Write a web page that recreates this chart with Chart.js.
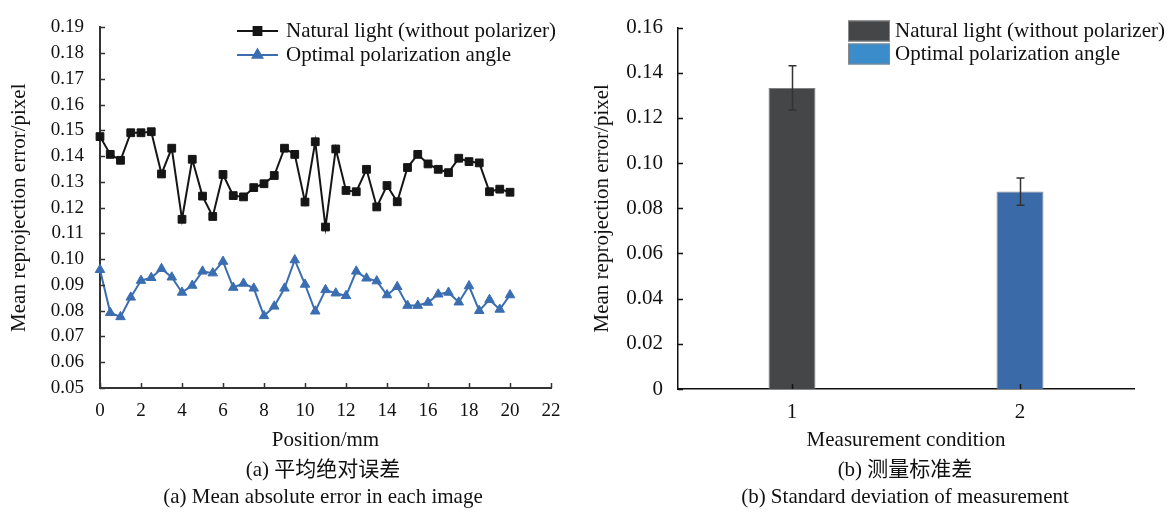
<!DOCTYPE html>
<html>
<head>
<meta charset="utf-8">
<script src="https://cdn.jsdelivr.net/npm/chart.js@4.4.0/dist/chart.umd.min.js"></script>
<style>
  body { margin: 0; background: #fff; width: 1171px; height: 512px; position: relative; overflow: hidden; }
  canvas { position: absolute; top: 0; }
  #left-chart { left: 0; }
  #right-chart { left: 580px; }
  .caption {
    position: absolute;
    font-family: 'Liberation Serif', 'Times New Roman', Times, 'Noto Sans CJK SC', serif;
    font-size: 21px;
    color: #111;
    white-space: nowrap;
    transform: translateX(-50%);
    line-height: 1;
  }
</style>
</head>
<body>
<canvas id="left-chart" width="580" height="460"></canvas>
<canvas id="right-chart" width="591" height="460"></canvas>
<div class="caption" style="left:323px; top:459px">(a) 平均绝对误差</div>
<div class="caption" style="left:323px; top:486px">(a) Mean absolute error in each image</div>
<div class="caption" style="left:905px; top:459px">(b) 测量标准差</div>
<div class="caption" style="left:905px; top:486px">(b) Standard deviation of measurement</div>

<script>
// (a) error at each position
const positions = [0, 0.5, 1, 1.5, 2, 2.5, 3, 3.5, 4, 4.5, 5, 5.5, 6, 6.5, 7, 7.5, 8, 8.5, 9, 9.5,
  10, 10.5, 11, 11.5, 12, 12.5, 13, 13.5, 14, 14.5, 15, 15.5, 16, 16.5, 17, 17.5, 18, 18.5, 19, 19.5, 20];
const naturalLight = [0.1476, 0.1407, 0.1384, 0.1491, 0.1491, 0.1495, 0.1331, 0.1431, 0.1155, 0.1388,
  0.1245, 0.1166, 0.1329, 0.1247, 0.1242, 0.1278, 0.1293, 0.1325, 0.1431, 0.1407,
  0.1222, 0.1456, 0.1125, 0.1428, 0.1267, 0.1262, 0.1349, 0.1203, 0.1286, 0.1223,
  0.1356, 0.1407, 0.1370, 0.1349, 0.1336, 0.1392, 0.1379, 0.1374, 0.1262, 0.1272, 0.1260];
const optimalAngle = [0.0959, 0.0792, 0.0776, 0.0852, 0.0917, 0.0928, 0.0963, 0.0930, 0.0871, 0.0898,
  0.0953, 0.0946, 0.0991, 0.0890, 0.0906, 0.0887, 0.0780, 0.0817, 0.0887, 0.0997,
  0.0902, 0.0798, 0.0881, 0.0868, 0.0858, 0.0953, 0.0926, 0.0915, 0.0861, 0.0893,
  0.0820, 0.0820, 0.0832, 0.0864, 0.0871, 0.0833, 0.0896, 0.0800, 0.0843, 0.0805, 0.0861];

// (b) mean and standard deviation per condition
const conditions = ['1', '2'];
const naturalMean = [0.1333, null];
const optimalMean = [null, 0.0874];
const stdDev = [0.0098, 0.0060];

const legendNames = ['Natural light (without polarizer)', 'Optimal polarization angle'];

const FONT = "'Liberation Serif', 'Times New Roman', Times, serif";
Chart.defaults.font.family = FONT;
Chart.defaults.font.size = 19;
Chart.defaults.color = '#111';

// tick marks pointing into the plot
const innerTicks = {
  id: 'innerTicks',
  afterDatasetsDraw(chart, args, opts) {
    const { ctx, chartArea, scales } = chart;
    ctx.save();
    ctx.strokeStyle = opts.color;
    ctx.lineWidth = opts.width;
    ctx.beginPath();
    scales.x.ticks.forEach((t, i) => {
      const px = Math.round(scales.x.getPixelForTick(i)) + 0.5;
      ctx.moveTo(px, chartArea.bottom);
      ctx.lineTo(px, chartArea.bottom - opts.length);
    });
    scales.y.ticks.forEach((t, i) => {
      const py = Math.round(scales.y.getPixelForTick(i)) + 0.5;
      ctx.moveTo(chartArea.left, py);
      ctx.lineTo(chartArea.left + opts.length, py);
    });
    ctx.stroke();
    ctx.restore();
  }
};

// legend drawn at a fixed spot inside the plot
const fixedLegend = {
  id: 'fixedLegend',
  afterDraw(chart, args, opts) {
    const ctx = chart.ctx;
    ctx.save();
    ctx.font = '21px ' + FONT;
    ctx.textBaseline = 'middle';
    chart.data.datasets.forEach((ds, i) => {
      const y = opts.top + i * opts.rowHeight;
      if (opts.kind === 'line') {
        ctx.strokeStyle = ds.borderColor;
        ctx.lineWidth = 2;
        ctx.beginPath();
        ctx.moveTo(opts.x, y);
        ctx.lineTo(opts.x + opts.sample, y);
        ctx.stroke();
        ctx.fillStyle = ds.pointBackgroundColor;
        ctx.strokeStyle = ds.pointBorderColor;
        Chart.helpers.drawPoint(ctx, { pointStyle: ds.pointStyle, radius: ds.pointRadius, borderWidth: 1 }, opts.x + opts.sample / 2, y);
      } else {
        ctx.fillStyle = opts.boxColors[i];
        ctx.fillRect(opts.x, y - opts.boxH / 2, opts.sample, opts.boxH);
        ctx.strokeStyle = '#888';
        ctx.lineWidth = 1;
        ctx.strokeRect(opts.x + 0.5, y - opts.boxH / 2 + 0.5, opts.sample - 1, opts.boxH - 1);
      }
      ctx.fillStyle = '#111';
      ctx.fillText(ds.label, opts.x + opts.sample + opts.gap, y);
    });
    ctx.restore();
  }
};

// standard deviation whiskers
const errorBars = {
  id: 'errorBars',
  afterDatasetsDraw(chart) {
    const { ctx, scales } = chart;
    ctx.save();
    ctx.strokeStyle = '#333';
    ctx.lineWidth = 1.5;
    chart.data.datasets.forEach((ds, di) => {
      const meta = chart.getDatasetMeta(di);
      meta.data.forEach((bar, i) => {
        const v = ds.data[i];
        if (v == null) return;
        const top = scales.y.getPixelForValue(v + stdDev[i]);
        const bottom = scales.y.getPixelForValue(v - stdDev[i]);
        const x = Math.round(bar.x) + 0.5;
        ctx.beginPath();
        ctx.moveTo(x, top); ctx.lineTo(x, bottom);
        ctx.moveTo(x - 4, top); ctx.lineTo(x + 4, top);
        ctx.moveTo(x - 4, bottom); ctx.lineTo(x + 4, bottom);
        ctx.stroke();
      });
    });
    ctx.restore();
  }
};

function lineData(values) {
  return values.map((v, i) => ({ x: positions[i], y: v }));
}

new Chart(document.getElementById('left-chart'), {
  type: 'line',
  data: {
    datasets: [{
      label: legendNames[0],
      data: lineData(naturalLight),
      borderColor: '#151515',
      borderWidth: 2,
      pointStyle: 'rect',
      pointRadius: 5.5,
      pointBackgroundColor: '#151515',
      pointBorderColor: '#151515',
      pointBorderWidth: 1,
      tension: 0,
      clip: false
    }, {
      label: legendNames[1],
      data: lineData(optimalAngle),
      borderColor: '#3a6eb1',
      borderWidth: 2,
      pointStyle: 'triangle',
      pointRadius: 5.5,
      pointBackgroundColor: '#3a6eb1',
      pointBorderColor: '#3a6eb1',
      pointBorderWidth: 1,
      tension: 0,
      clip: false
    }]
  },
  options: {
    responsive: false,
    animation: false,
    layout: { padding: { top: 18, right: 29, left: 0, bottom: 0 } },
    plugins: {
      legend: { display: false },
      tooltip: { enabled: false },
      innerTicks: { color: '#333', width: 1.5, length: 5 },
      fixedLegend: { kind: 'line', x: 237, top: 31, rowHeight: 24, sample: 41, gap: 8 }
    },
    scales: {
      x: {
        type: 'linear',
        min: 0,
        max: 22,
        afterFit: s => { s.height = 72; },
        ticks: { stepSize: 2, padding: 12, maxRotation: 0, autoSkip: false },
        grid: { display: false, drawTicks: false },
        border: { display: true, color: '#333', width: 2 },
        title: { display: true, text: 'Position/mm', font: { size: 21 }, padding: { top: 0, bottom: 7 } }
      },
      y: {
        min: 0.05,
        max: 0.19,
        afterFit: s => { s.width = 100; },
        ticks: { stepSize: 0.01, padding: 16, autoSkip: false, callback: v => v.toFixed(2) },
        grid: { display: false, drawTicks: false },
        border: { display: true, color: '#333', width: 2 },
        title: { display: true, text: 'Mean reprojection error/pixel', font: { size: 21 }, padding: { top: 7, bottom: 0 } }
      }
    }
  },
  plugins: [innerTicks, fixedLegend]
});

new Chart(document.getElementById('right-chart'), {
  type: 'bar',
  data: {
    labels: conditions,
    datasets: [{
      label: legendNames[0],
      data: naturalMean,
      backgroundColor: '#454648',
      borderColor: '#808080',
      borderWidth: 1,
      skipNull: true,
      categoryPercentage: 1,
      barPercentage: 0.206
    }, {
      label: legendNames[1],
      data: optimalMean,
      backgroundColor: '#3a6aa8',
      borderColor: '#8a8a8a',
      borderWidth: 1,
      skipNull: true,
      categoryPercentage: 1,
      barPercentage: 0.206
    }]
  },
  options: {
    responsive: false,
    animation: false,
    layout: { padding: { top: 23, right: 37, left: 0, bottom: 0 } },
    plugins: {
      legend: { display: false },
      tooltip: { enabled: false },
      innerTicks: { color: '#111', width: 1.5, length: 5 },
      fixedLegend: { kind: 'box', x: 268, top: 31, rowHeight: 23, sample: 42, boxH: 21, gap: 5, boxColors: ['#454648', '#3b8ccb'] }
    },
    scales: {
      x: {
        afterFit: s => { s.height = 71; },
        ticks: { padding: 11, font: { size: 21 } },
        grid: { display: false, drawTicks: false },
        border: { display: true, color: '#111', width: 1.5 },
        title: { display: true, text: 'Measurement condition', font: { size: 21 }, padding: { top: 0, bottom: 7 } }
      },
      y: {
        min: 0,
        max: 0.16,
        afterFit: s => { s.width = 98; },
        ticks: { stepSize: 0.02, padding: 15, font: { size: 21 }, callback: v => v === 0 ? '0' : v.toFixed(2) },
        grid: { display: false, drawTicks: false },
        border: { display: true, color: '#111', width: 1.5 },
        title: { display: true, text: 'Mean reprojection error/pixel', font: { size: 21 }, padding: { top: 10, bottom: 0 } }
      }
    }
  },
  plugins: [innerTicks, errorBars, fixedLegend]
});
</script>
</body>
</html>
